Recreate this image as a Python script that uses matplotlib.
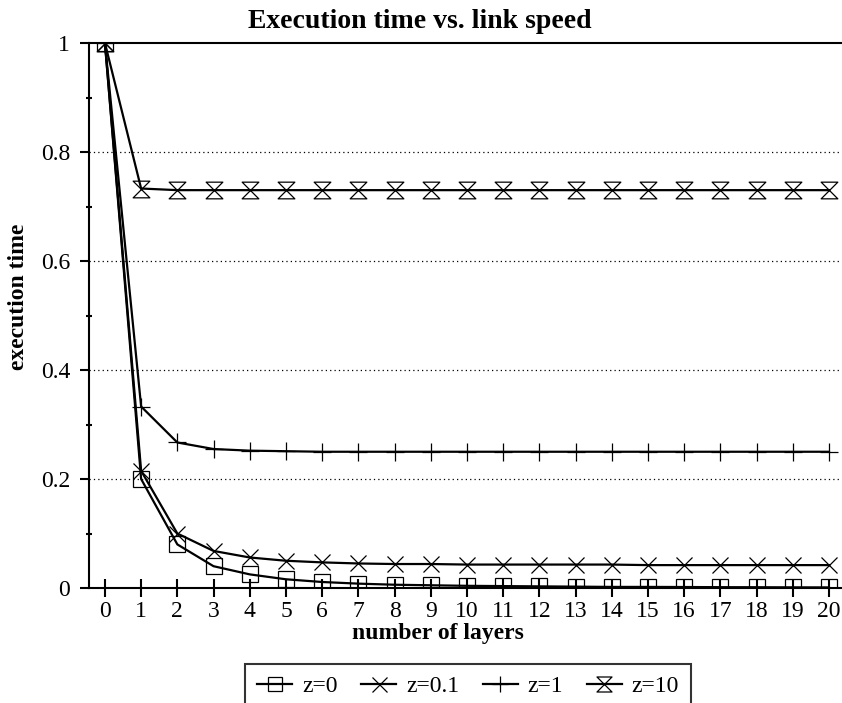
import numpy as np
import matplotlib.pyplot as plt
from matplotlib.path import Path

plt.rcParams['font.family'] = ['Liberation Serif', 'DejaVu Serif']

layers = np.arange(0, 21)
z0 = [1, 0.2, 0.08, 0.04, 0.025, 0.016, 0.011, 0.008, 0.006, 0.005, 0.004,
      0.0035, 0.003, 0.0025, 0.002, 0.002, 0.0018, 0.0015, 0.0014, 0.0012, 0.0011]
z01 = [1, 0.215, 0.1, 0.068, 0.056, 0.05, 0.047, 0.045, 0.044, 0.044, 0.043,
       0.043, 0.043, 0.043, 0.043, 0.042, 0.042, 0.042, 0.042, 0.042, 0.042]
z1 = [1, 0.333, 0.267, 0.255, 0.252, 0.251, 0.25, 0.25, 0.25, 0.25, 0.25,
      0.25, 0.25, 0.25, 0.25, 0.25, 0.25, 0.25, 0.25, 0.25, 0.25]
z10 = [1, 0.733, 0.73, 0.73, 0.73, 0.73, 0.73, 0.73, 0.73, 0.73, 0.73,
       0.73, 0.73, 0.73, 0.73, 0.73, 0.73, 0.73, 0.73, 0.73, 0.73]
labels = ['z=0', 'z=0.1', 'z=1', 'z=10']

# hourglass marker (gnuplot style)
hourglass = Path([(-1, 1), (1, 1), (-1, -1), (1, -1), (-1, 1)],
                 [Path.MOVETO, Path.LINETO, Path.LINETO, Path.LINETO, Path.CLOSEPOLY])

fig = plt.figure(figsize=(8.42, 7.03), dpi=100)
ax = fig.add_axes([89/842, 1 - 588/703, 1 - 89/842, (588 - 43)/703])

styles = [('s', 11), ('x', 12), ('+', 13), (hourglass, 12)]
for ys, lab, (m, ms) in zip([z0, z01, z1, z10], labels, styles):
    ax.plot(layers, ys, color='black', lw=1.6, marker=m, ms=ms,
            mfc='none', mec='black', mew=0.9, label=lab)

ax.set_xlim(-0.44, 20.36)
ax.set_ylim(0, 1)
ax.set_xticks(layers)
ax.set_yticks([0, 0.2, 0.4, 0.6, 0.8, 1])
ax.set_yticklabels(['0', '0.2', '0.4', '0.6', '0.8', '1'])
ax.set_yticks(np.arange(0.1, 1, 0.2), minor=True)
for y in [0.2, 0.4, 0.6, 0.8]:
    ax.axhline(y, color='black', lw=0.9, ls=(0, (1, 2.5)), zorder=0)

ax.spines['right'].set_visible(False)
for s in ['left', 'bottom', 'top']:
    ax.spines[s].set_linewidth(1.5)
ax.tick_params(axis='y', which='major', direction='out', length=6.5, width=1.5,
               labelsize=17, pad=7)
ax.tick_params(axis='y', which='minor', direction='inout', length=5, width=1.5)
ax.tick_params(axis='x', which='major', direction='inout', length=13, width=1.5,
               labelsize=17, pad=3)

fig.text(420/842, 1 - 21/703, 'Execution time vs. link speed', fontsize=20,
         fontweight='bold', ha='center', va='center')
fig.text(438/842, 1 - 634/703, 'number of layers', fontsize=17,
         fontweight='bold', ha='center', va='center')
fig.text(19/842, 1 - 297/703, 'execution time', fontsize=17, rotation=90,
         fontweight='bold', ha='center', va='center')

leg = fig.legend(loc='upper center', bbox_to_anchor=(468/842, 1 - 664/703), ncol=4,
                 fontsize=17, frameon=True, fancybox=False, handlelength=1.5,
                 columnspacing=1.0, handletextpad=0.4, borderpad=0.5,
                 borderaxespad=0, markerscale=0.9)
leg.get_frame().set_edgecolor('black')
leg.get_frame().set_linewidth(1.5)

fig.savefig('out.png', dpi=100)
